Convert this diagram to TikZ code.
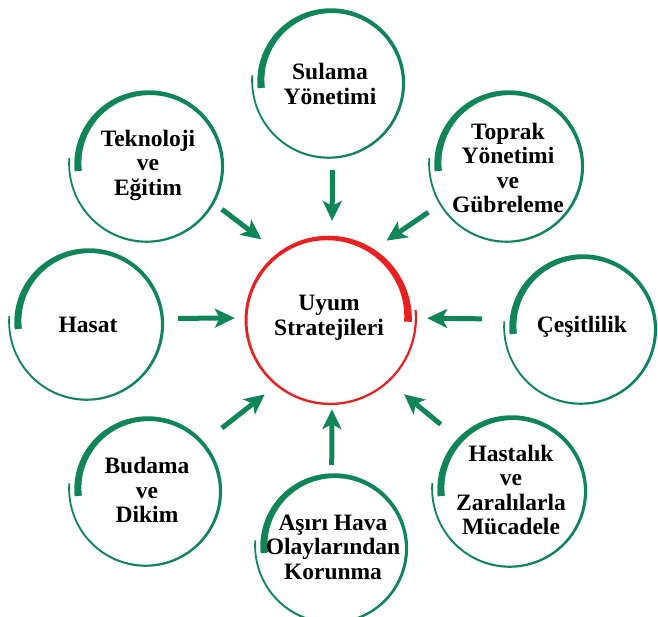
\documentclass[tikz,border=0pt]{standalone}
\usepackage{fontspec}
\setmainfont{Liberation Serif}
\usetikzlibrary{arrows.meta}
\definecolor{ringgreen}{RGB}{16,134,88}
\definecolor{ringred}{RGB}{232,32,32}
\newcommand\greenring[3]{%
  \fill[ringgreen] plot[domain=0:1,samples=181,variable=\s]
    ({#1+(#3-6+9*\s+0.5*(1.8+5.5*(1-\s)*(1-\s)))*cos(185-370*\s)},
     {#2-(#3-6+9*\s+0.5*(1.8+5.5*(1-\s)*(1-\s)))*sin(185-370*\s)})
  -- plot[domain=1:0,samples=181,variable=\s]
    ({#1+(#3-6+9*\s-0.5*(1.8+5.5*(1-\s)*(1-\s)))*cos(185-370*\s)},
     {#2-(#3-6+9*\s-0.5*(1.8+5.5*(1-\s)*(1-\s)))*sin(185-370*\s)})
  -- cycle;}
\newcommand\redring[2]{%
  \fill[ringred] plot[domain=0:1,samples=181,variable=\s]
    ({#1+(79+8*\s+0.5*(2.2+5.5*(1-\s)*(1-\s)*(1-\s)))*cos(-2+368*\s)},
     {#2-(79+8*\s+0.5*(2.2+5.5*(1-\s)*(1-\s)*(1-\s)))*sin(-2+368*\s)})
  -- plot[domain=1:0,samples=181,variable=\s]
    ({#1+(79+8*\s-0.5*(2.2+5.5*(1-\s)*(1-\s)*(1-\s)))*cos(-2+368*\s)},
     {#2-(79+8*\s-0.5*(2.2+5.5*(1-\s)*(1-\s)*(1-\s)))*sin(-2+368*\s)})
  -- cycle;}
\tikzset{
  gnode/.style={circle, minimum size=150pt, inner sep=0pt, align=center,
    font=\fontsize{23.5}{24.5}\selectfont\bfseries},
  rnode/.style={circle, minimum size=170pt, inner sep=0pt, align=center,
    font=\fontsize{23.5}{24.5}\selectfont\bfseries},
  arr/.style={draw=ringgreen, line width=5pt,
    -{Stealth[length=20pt, width=19pt, inset=5pt]}}
}
\begin{document}
\begin{tikzpicture}[x=1pt, y=-1pt]
\fill[white] (0,0) rectangle (658,617);
\useasboundingbox (0,0) rectangle (658,617);

\greenring{330}{82}{75}
\greenring{148}{165}{76}
\greenring{508}{165}{76}
\greenring{88}{323}{76}
\greenring{582}{328}{75}
\greenring{147}{490}{75}
\greenring{511}{490}{76}
\greenring{333}{547}{75}
\redring{329}{319}

\node[rnode] (uyum) at (329,318) {Uyum\\Stratejileri};
\node[gnode] (sul) at (330,84) {Sulama\\Yönetimi};
\node[gnode] (tek) at (148,165) {Teknoloji\\ve\\Eğitim};
\node[gnode] (top) at (508,168) {Toprak\\Yönetimi\\ve\\Gübreleme};
\node[gnode] (has) at (88,325) {Hasat};
\node[gnode] (ces) at (582,327) {Çeşitlilik};
\node[gnode] (bud) at (147,490) {Budama\\ve\\Dikim};
\node[gnode] (hast) at (511,490) {Hastalık\\ve\\Zaralılarla\\Mücadele};
\node[gnode] (asi) at (333,547) {Aşırı Hava\\Olaylarından\\Korunma};

\draw[arr, shorten <=11pt, shorten >=12pt] (sul.-88) -- (uyum.88);
\draw[arr, shorten <=11pt, shorten >=19pt] (tek.-30) -- (uyum.128);
\draw[arr, shorten <=16pt, shorten >=12pt] (top.208) -- (uyum.56);
\draw[arr, shorten <=15pt, shorten >=9pt] (has.5) -- (uyum.180);
\draw[arr, shorten <=25pt, shorten >=13pt] (ces.174) -- (uyum.0);
\draw[arr, shorten <=22pt, shorten >=15pt] (bud.40) -- (uyum.-128);
\draw[arr, shorten <=7pt, shorten >=6pt] (asi.91) -- (uyum.-88);
\draw[arr, shorten <=21pt, shorten >=22pt] (hast.136) -- (uyum.-47);
\end{tikzpicture}
\end{document}
